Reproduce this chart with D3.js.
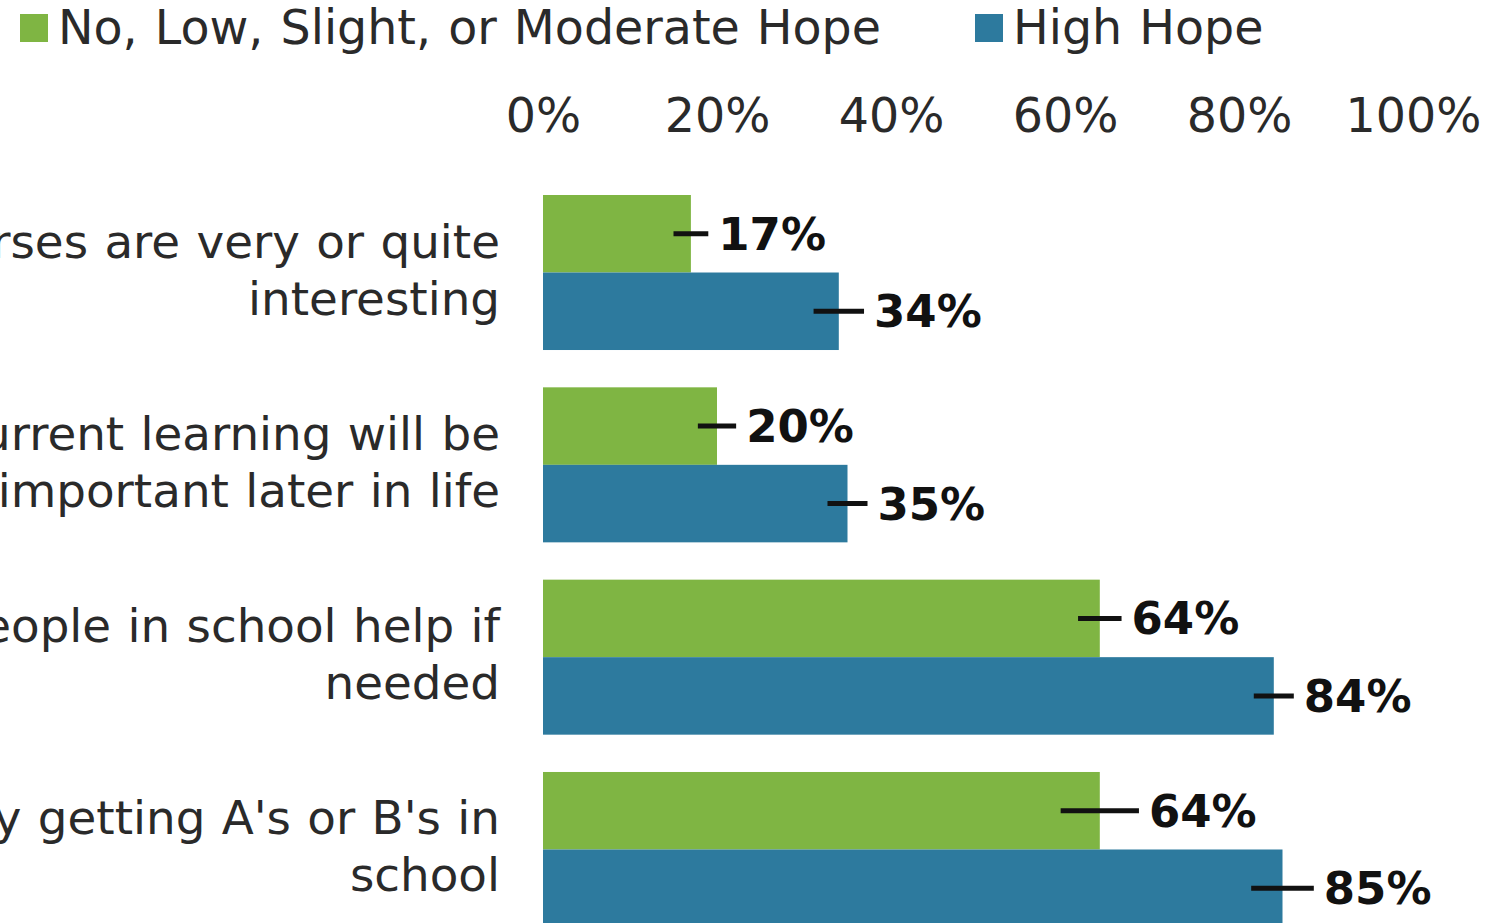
<!DOCTYPE html>
<html>
<head>
<meta charset="utf-8">
<script src="https://cdn.jsdelivr.net/npm/d3@7"></script>
<style>
  html, body { margin: 0; padding: 0; background: #fff; overflow: hidden; }
  svg { display: block; font-family: "DejaVu Sans", Verdana, sans-serif; }
</style>
</head>
<body>
<svg id="chart" width="1494" height="923"></svg>
<script>
// Survey items (each label split into its two display lines)
const categories = [
  ["Courses are very or quite", "interesting"],
  ["Current learning will be", "important later in life"],
  ["People in school help if", "needed"],
  ["Mostly getting A's or B's in", "school"]
];
const seriesNames = ["No, Low, Slight, or Moderate Hope", "High Hope"];
const lowHope = [17, 20, 64, 64];
const highHope = [34, 35, 84, 85];
// Margin of error (percentage points) for each bar
const lowHopeMargin = [2.0, 2.2, 2.5, 4.5];
const highHopeMargin = [2.9, 2.3, 2.3, 3.6];
const tickValues = [0, 20, 40, 60, 80, 100];

const colors = ["#7fb543", "#2d7a9e"];

const svg = d3.select("#chart");

const x = d3.scaleLinear().domain([0, 100]).range([543, 1413]);

const y0 = d3.scaleBand()
  .domain(d3.range(categories.length))
  .range([195, 927])
  .paddingInner(0.194)
  .paddingOuter(0);

const y1 = d3.scaleBand()
  .domain([0, 1])
  .range([0, y0.bandwidth()])
  .padding(0);

const rows = categories.map((c, i) => ({
  lines: c,
  values: [
    { s: 0, v: lowHope[i], m: lowHopeMargin[i] },
    { s: 1, v: highHope[i], m: highHopeMargin[i] }
  ]
}));

// Legend
const legendPos = [{ sq: 20, tx: 58 }, { sq: 975, tx: 1013 }];
const legend = svg.append("g").attr("class", "legend");
seriesNames.forEach((name, i) => {
  legend.append("rect")
    .attr("x", legendPos[i].sq).attr("y", 14)
    .attr("width", 28).attr("height", 28)
    .attr("fill", colors[i]);
  legend.append("text")
    .attr("x", legendPos[i].tx).attr("y", 44)
    .attr("font-size", 47.5)
    .attr("word-spacing", 2)
    .attr("fill", "#2a2a2a")
    .text(name);
});

// Top axis, labels only
const axis = svg.append("g")
  .attr("transform", "translate(0,132)")
  .call(d3.axisTop(x).tickValues(tickValues).tickSize(0).tickPadding(0).tickFormat(d => d + "%"));
axis.select(".domain").remove();
axis.selectAll("text")
  .attr("font-size", 47.5)
  .attr("font-family", "DejaVu Sans, Verdana, sans-serif")
  .attr("fill", "#2a2a2a")
  .attr("dy", 0);

// Groups
const group = svg.append("g").selectAll("g.row")
  .data(rows)
  .join("g")
  .attr("class", "row")
  .attr("transform", (d, i) => `translate(0,${y0(i)})`);

// Category labels
group.append("text")
  .attr("text-anchor", "end")
  .attr("font-size", 46.8)
  .attr("word-spacing", 1.5)
  .attr("fill", "#2a2a2a")
  .selectAll("tspan")
  .data(d => d.lines)
  .join("tspan")
  .attr("x", 500)
  .attr("y", (d, j) => y0.bandwidth() / 2 - 15 + j * 57)
  .text(d => d);

// Bars
group.selectAll("rect.bar")
  .data(d => d.values)
  .join("rect")
  .attr("class", "bar")
  .attr("x", x(0))
  .attr("y", d => y1(d.s))
  .attr("width", d => x(d.v) - x(0))
  .attr("height", y1.bandwidth())
  .attr("fill", d => colors[d.s]);

// Error bars
group.selectAll("line.err")
  .data(d => d.values)
  .join("line")
  .attr("class", "err")
  .attr("x1", d => x(d.v - d.m))
  .attr("x2", d => x(d.v + d.m))
  .attr("y1", d => y1(d.s) + y1.bandwidth() / 2)
  .attr("y2", d => y1(d.s) + y1.bandwidth() / 2)
  .attr("stroke", "#111")
  .attr("stroke-width", 5);

// Value labels
group.selectAll("text.val")
  .data(d => d.values)
  .join("text")
  .attr("class", "val")
  .attr("x", d => x(d.v + d.m) + 10)
  .attr("y", d => y1(d.s) + y1.bandwidth() / 2 + 16)
  .attr("font-size", 45)
  .attr("font-weight", "bold")
  .attr("fill", "#111")
  .text(d => d.v + "%");
</script>
</body>
</html>
